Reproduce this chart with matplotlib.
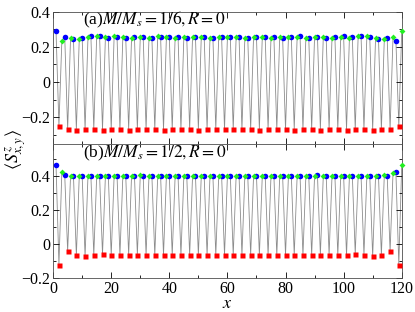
import numpy as np
import matplotlib
matplotlib.use("Agg")
import matplotlib.pyplot as plt
from matplotlib.ticker import MultipleLocator

plt.rcParams["font.family"] = ["Liberation Serif", "DejaVu Serif"]
plt.rcParams["mathtext.fontset"] = "stix"

# site index along the leg
sites = np.arange(1, 121)

# (a) M/Ms = 1/6 : sites 1,4,7,... (blue), 2,5,8,... (red), 3,6,9,... (green)
blue_a = [0.290, 0.256, 0.243, 0.251, 0.262, 0.260, 0.253, 0.256, 0.250, 0.255,
          0.258, 0.252, 0.256, 0.254, 0.258, 0.253, 0.255, 0.257, 0.252, 0.256,
          0.254, 0.256, 0.252, 0.256, 0.258, 0.254, 0.253, 0.257, 0.259, 0.252,
          0.256, 0.250, 0.255, 0.260, 0.254, 0.262, 0.255, 0.245, 0.250, 0.234]
red_a = [-0.249, -0.270, -0.271, -0.270, -0.270, -0.271, -0.270, -0.270, -0.271, -0.270,
         -0.270, -0.270, -0.271, -0.270, -0.270, -0.270, -0.271, -0.270, -0.270, -0.270,
         -0.270, -0.270, -0.270, -0.271, -0.270, -0.270, -0.270, -0.271, -0.270, -0.270,
         -0.271, -0.270, -0.270, -0.271, -0.270, -0.270, -0.271, -0.270, -0.268, -0.249]
green_a = [0.234, 0.250, 0.245, 0.255, 0.262, 0.254, 0.260, 0.255, 0.250, 0.256,
           0.252, 0.259, 0.257, 0.253, 0.254, 0.258, 0.256, 0.252, 0.256, 0.254,
           0.256, 0.252, 0.257, 0.255, 0.253, 0.258, 0.254, 0.256, 0.252, 0.258,
           0.255, 0.250, 0.256, 0.253, 0.260, 0.262, 0.251, 0.243, 0.256, 0.290]

# (b) M/Ms = 1/2
blue_b = [0.463, 0.402, 0.400, 0.398, 0.400, 0.399, 0.401, 0.400, 0.399, 0.400,
          0.401, 0.399, 0.400, 0.400, 0.399, 0.401, 0.400, 0.399, 0.400, 0.401,
          0.400, 0.399, 0.400, 0.401, 0.400, 0.399, 0.400, 0.401, 0.399, 0.400,
          0.402, 0.400, 0.399, 0.401, 0.400, 0.399, 0.401, 0.400, 0.400, 0.420]
red_b = [-0.121, -0.043, -0.067, -0.073, -0.065, -0.062, -0.067, -0.067, -0.065, -0.064,
         -0.066, -0.067, -0.065, -0.066, -0.067, -0.066, -0.067, -0.066, -0.065, -0.066,
         -0.066, -0.065, -0.066, -0.067, -0.066, -0.067, -0.066, -0.065, -0.067, -0.066,
         -0.064, -0.065, -0.067, -0.067, -0.058, -0.063, -0.073, -0.067, -0.043, -0.121]
green_b = [0.420, 0.400, 0.400, 0.401, 0.399, 0.400, 0.401, 0.399, 0.400, 0.402,
           0.400, 0.399, 0.401, 0.400, 0.399, 0.400, 0.401, 0.400, 0.399, 0.400,
           0.401, 0.400, 0.399, 0.400, 0.401, 0.399, 0.400, 0.400, 0.399, 0.401,
           0.400, 0.399, 0.401, 0.400, 0.399, 0.398, 0.400, 0.402, 0.416, 0.463]

panels = [
    (blue_a, red_a, green_a, r"(a)$M/M_s=1/6, R=0$", (-0.355, 0.40)),
    (blue_b, red_b, green_b, r"(b)$M/M_s=1/2, R=0$", (-0.20, 0.585)),
]


def interleave(b, r, g):
    y = np.empty(3 * len(b))
    y[0::3] = b
    y[1::3] = r
    y[2::3] = g
    return y


fig = plt.figure(figsize=(4.15, 3.12), dpi=100)
axes = [fig.add_axes([0.128, 0.5375, 0.840, 0.425]),
        fig.add_axes([0.128, 0.109, 0.840, 0.4285])]

for ax, (b, r, g, label, ylim) in zip(axes, panels):
    y = interleave(b, r, g)
    ax.plot(sites, y, color="0.55", lw=0.6, zorder=1)
    ax.plot(sites[0::3], b, "o", color="#0000ff", ms=4, mec="none",
            zorder=3, clip_on=False)
    ax.plot(sites[1::3], r, "s", color="#ff0000", ms=3.6, mec="none",
            zorder=3, clip_on=False)
    ax.plot(sites[2::3], g, "D", color="#22ee22", ms=3.0, mec="none",
            zorder=3, clip_on=False)
    ax.set_xlim(0, 120)
    ax.set_ylim(*ylim)
    ax.set_yticks([-0.2, 0, 0.2, 0.4])
    ax.set_yticklabels(["\u22120.2", "0", "0.2", "0.4"])
    ax.xaxis.set_major_locator(MultipleLocator(20))
    ax.xaxis.set_minor_locator(MultipleLocator(10))
    ax.yaxis.set_minor_locator(MultipleLocator(0.1))
    ax.tick_params(which="both", direction="in", top=True, right=True,
                   labelsize=11.5, pad=2)
    ax.tick_params(which="major", length=4, width=0.6)
    ax.tick_params(which="minor", length=2, width=0.6)
    for s in ax.spines.values():
        s.set_linewidth(0.6)
        s.set_color("0.3")
    ax.text(0.086, 0.935, label, transform=ax.transAxes, fontsize=12.5,
            ha="left", va="center")

axes[0].tick_params(labelbottom=False)
axes[1].set_xlabel(r"$x$", fontsize=13, labelpad=-1)
fig.text(0.04, 0.52, r"$\langle S^z_{x,y}\rangle$", rotation=90, fontsize=13,
         ha="center", va="center")

fig.savefig("out.png", dpi=100)
